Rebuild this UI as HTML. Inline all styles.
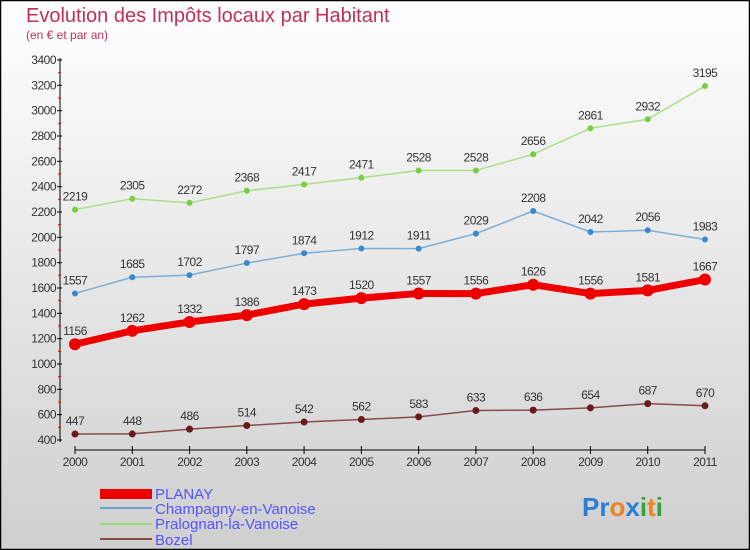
<!DOCTYPE html>
<html><head><meta charset="utf-8"><style>
body{margin:0;width:750px;height:550px;overflow:hidden}
svg{display:block;font-family:"Liberation Sans",sans-serif}
</style></head><body>
<svg id="c" width="750" height="550">
<defs><linearGradient id="bg" x1="0" y1="0" x2="0" y2="1"><stop offset="0" stop-color="#ffffff"/><stop offset="1" stop-color="#cfcfcf"/></linearGradient></defs>
<rect x="0.5" y="0.5" width="749" height="549" fill="url(#bg)" stroke="#000" stroke-width="1.5"/>
<text x="26" y="22" font-size="20" fill="#c0305a">Evolution des Impôts locaux par Habitant</text>
<text x="26" y="39" font-size="12" fill="#c0305a">(en € et par an)</text>
<g id="axes"></g><g id="series"></g>
<g>
<rect x="100" y="489" width="52" height="10" fill="#e00"/>
<text x="155" y="499" font-size="15" fill="#5555ff">PLANAY</text>
<line x1="100" y1="508" x2="152" y2="508" stroke="#6a9fcb" stroke-width="2"/>
<text x="155" y="514" font-size="15" fill="#5555ff">Champagny-en-Vanoise</text>
<line x1="100" y1="524" x2="152" y2="524" stroke="#99dd77" stroke-width="2"/>
<text x="155" y="529" font-size="15" fill="#5555ff">Pralognan-la-Vanoise</text>
<line x1="100" y1="539" x2="152" y2="539" stroke="#8a4a4a" stroke-width="2"/>
<text x="155" y="545" font-size="15" fill="#5555ff">Bozel</text>
</g>
<text x="582" y="516" font-size="26" font-weight="bold"><tspan fill="#2a7fd4">Pr</tspan><tspan fill="#f08020">o</tspan><tspan fill="#2a7fd4">x</tspan><tspan fill="#3aa040">i</tspan><tspan fill="#f08020">t</tspan><tspan fill="#3aa040">i</tspan></text>
</svg>
<script>
const years=["2000","2001","2002","2003","2004","2005","2006","2007","2008","2009","2010","2011"];
const yTicks=[400,600,800,1000,1200,1400,1600,1800,2000,2200,2400,2600,2800,3000,3200,3400];
const planay=[1156,1262,1332,1386,1473,1520,1557,1556,1626,1556,1581,1667];
const champagny=[1557,1685,1702,1797,1874,1912,1911,2029,2208,2042,2056,1983];
const pralognan=[2219,2305,2272,2368,2417,2471,2528,2528,2656,2861,2932,3195];
const bozel=[447,448,486,514,542,562,583,633,636,654,687,670];
const NS="http://www.w3.org/2000/svg";
const X=i=>75+i*(630/11);
const Y=v=>440-(v-400)*380/3000;
function mk(t,a,p){const e=document.createElementNS(NS,t);for(const k in a)e.setAttribute(k,a[k]);p.appendChild(e);return e;}
const ax=document.getElementById('axes');
let e=mk('line',{x1:60,y1:58,x2:60,y2:442,stroke:'#000','stroke-width':1},ax);


e=mk('line',{x1:75,y1:450,x2:705,y2:450,stroke:'#000','stroke-width':1},ax);


yTicks.forEach((v,i)=>{
 mk('line',{x1:57,y1:Y(v),x2:62,y2:Y(v),stroke:'#000'},ax);
 if(i<yTicks.length-1)mk('line',{x1:58,y1:Y(v+100),x2:61,y2:Y(v+100),stroke:'#e00'},ax);
 const t=mk('text',{x:56,y:Y(v)+4,'font-size':12,fill:'#333','text-anchor':'end','letter-spacing':'-0.5'},ax);
 t.textContent=v;
 
 
});
years.forEach((y,i)=>{
 mk('line',{x1:X(i),y1:446,x2:X(i),y2:454,stroke:'#000'},ax);
 const t=mk('text',{x:X(i),y:466,'font-size':12,fill:'#333','text-anchor':'middle','letter-spacing':'-0.5'},ax);
 t.textContent=y;
 
 
});
const sg=document.getElementById('series');
function series(name,data,color,dot,w,r){
 const g=mk('g',{},sg);
 
 
 const p=mk('polyline',{points:data.map((v,i)=>X(i)+','+Y(v)).join(' '),fill:'none',stroke:color,'stroke-width':w,'stroke-linejoin':'round'},g);
 
 
 data.forEach((v,i)=>{
  const c=mk('circle',{cx:X(i),cy:Y(v),r:r,fill:dot},g);
  
  
  const t=mk('text',{x:X(i),y:Y(v)-9,'font-size':12,fill:'#333','text-anchor':'middle','letter-spacing':'-0.5'},g);
  t.textContent=v;
  
  
 });
}
series('pralognan',pralognan,'#a8e08a','#77cc44',1.5,3);
series('champagny',champagny,'#7aaed8','#3a88cc',1.5,3);
series('planay',planay,'#ee0000','#ee0000',7,6);
series('bozel',bozel,'#8a4a4a','#6a1a1a',1.5,3.5);
</script>
</body></html>
